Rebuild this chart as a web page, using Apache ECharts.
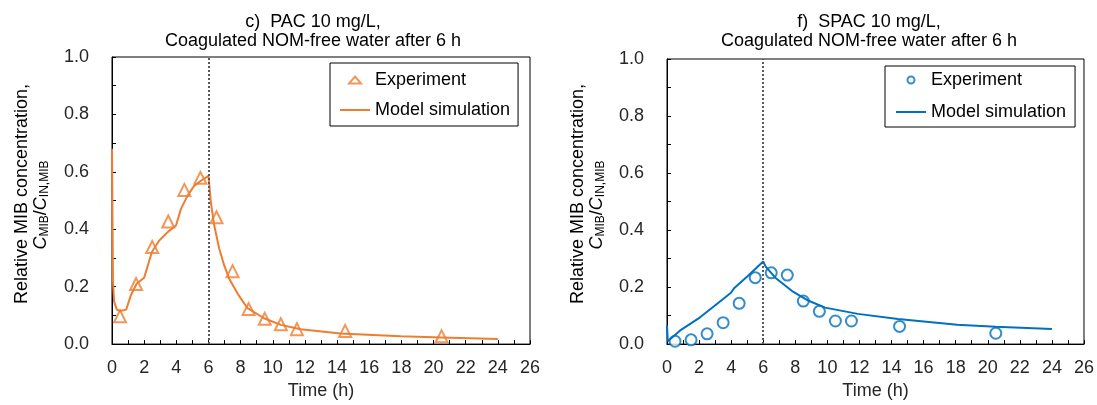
<!DOCTYPE html>
<html>
<head>
<meta charset="utf-8">
<script src="https://cdn.jsdelivr.net/npm/echarts@6/dist/echarts.min.js"></script>
<style>
  html, body { margin: 0; padding: 0; background: #fff; }
  #chart { width: 1097px; height: 405px; }
</style>
</head>
<body>
<div id="chart"></div>
<script>
// Sampling times (h) of the MIB measurements
const sampleTimes = [0.5, 1.5, 2.5, 3.5, 4.5, 5.5, 6.5, 7.5, 8.5, 9.5, 10.5, 11.5, 14.5, 20.5];

// Panel c) PAC 10 mg/L
const pacExperiment = [0.097, 0.209, 0.338, 0.427, 0.537, 0.579, 0.442, 0.254, 0.122, 0.088, 0.069, 0.052, 0.046, 0.027];
const pacModelTimes = [0, 0.06, 0.13, 0.3, 0.5, 0.88, 1.18, 1.53, 2.0, 2.48, 2.94, 3.46, 3.98, 4.29, 4.7, 5.11, 5.53, 6.0,
  6.15, 6.36, 6.67, 6.98, 7.29, 7.81, 8.43, 9.46, 10.5, 11.74, 14.2, 17.95, 20.5, 24];
const pacModel = [0.68, 0.218, 0.149, 0.12, 0.115, 0.12, 0.171, 0.21, 0.231, 0.321, 0.361, 0.39, 0.413, 0.471, 0.517, 0.551, 0.569, 0.586,
  0.494, 0.413, 0.332, 0.274, 0.228, 0.176, 0.125, 0.09, 0.067, 0.052, 0.037, 0.027, 0.023, 0.018];

// Panel f) SPAC 10 mg/L
const spacExperiment = [0.01, 0.015, 0.036, 0.075, 0.143, 0.233, 0.25, 0.242, 0.151, 0.115, 0.081, 0.081, 0.062, 0.038];
const spacModelTimes = [0, 0.05, 0.8, 2.04, 3.07, 3.99, 4.2, 5.02, 6.0, 6.15, 6.77, 7.8, 8.83, 9.86, 11.9, 14.4, 18.1, 20.5, 24];
const spacModel = [0.065, 0.01, 0.047, 0.093, 0.139, 0.18, 0.197, 0.238, 0.29, 0.272, 0.232, 0.186, 0.152, 0.128, 0.106, 0.088, 0.068, 0.061, 0.053];

// Axis settings
const xRange = [0, 26];
const yRange = [0, 1];
const coagulationTime = 6;

const titlesC = ['c)  PAC 10 mg/L,', 'Coagulated NOM-free water after 6 h'];
const titlesF = ['f)  SPAC 10 mg/L,', 'Coagulated NOM-free water after 6 h'];

const ORANGE = '#ED7D31';
const BLUE = '#0070C0';
const FONT = '"Liberation Sans", Arial, sans-serif';
const TXT = '#262626';
const FS = 18;

// Legend icon shapes (kept in proportion inside the legend item box)
const TRIANGLE_ICON = 'path://M6,0L12,7L0,7Z';
const CIRCLE_ICON = 'path://M10,5A5,5,0,1,1,0,5A5,5,0,1,1,10,5Z';
const LINE_ICON = 'path://M0,0L30,0L30,2L0,2Z';

const pairs = (xs, ys) => xs.map((x, i) => [x, ys[i]]);

function xAxis(gridIndex) {
  return {
    type: 'value', gridIndex, min: xRange[0], max: xRange[1], interval: 1,
    name: 'Time (h)', nameLocation: 'middle', nameGap: 36,
    nameTextStyle: { fontSize: FS, color: TXT, fontFamily: FONT },
    axisLine: { lineStyle: { color: '#000', width: 1 } },
    axisTick: { inside: true, length: 4, lineStyle: { color: '#000' } },
    axisLabel: {
      margin: 15, fontSize: FS, color: TXT, fontFamily: FONT,
      formatter: v => (Math.round(v) % 2 === 0 ? String(Math.round(v)) : '')
    },
    splitLine: { show: false }
  };
}

function yAxis(gridIndex) {
  return {
    type: 'value', gridIndex, min: yRange[0], max: yRange[1], interval: 0.1,
    axisLine: { show: true, lineStyle: { color: '#000', width: 1 } },
    axisTick: { show: true, inside: true, length: 4, lineStyle: { color: '#000' } },
    axisLabel: {
      margin: 23, fontSize: FS, color: TXT, fontFamily: FONT,
      formatter: v => (Math.round(v * 10) % 2 === 0 ? v.toFixed(1) : '')
    },
    splitLine: { show: false }
  };
}

function legend(prefix, markerIcon, left, top, iconSize, gap, padding) {
  return {
    orient: 'vertical', left, top,
    data: [
      { name: prefix + 'Experiment', icon: markerIcon },
      { name: prefix + 'Model simulation', icon: LINE_ICON }
    ],
    formatter: n => n.slice(prefix.length),
    itemWidth: 30, itemHeight: iconSize, itemGap: gap,
    symbolKeepAspect: true,
    padding,
    borderColor: '#000', borderWidth: 1, borderRadius: 0,
    backgroundColor: '#fff',
    selectedMode: false,
    textStyle: { fontSize: FS, color: '#000', fontFamily: FONT, lineHeight: 18 }
  };
}

function dividerLine() {
  return {
    silent: true, symbol: ['none', 'none'],
    label: { show: false },
    lineStyle: { color: '#595959', type: [2, 2], width: 2 },
    data: [{ xAxis: coagulationTime }]
  };
}

function titleTexts(lines, cx) {
  const ys = [21.7, 41];
  return lines.map((t, i) => ({
    type: 'text', x: cx, y: ys[i],
    style: { text: t, font: FS + 'px ' + FONT, fill: '#000', align: 'center', verticalAlign: 'middle' }
  }));
}

function yNameTexts(x1, x2) {
  return [
    {
      type: 'text', x: x1, y: 194, rotation: Math.PI / 2,
      style: { text: 'Relative MIB concentration,', font: FS + 'px ' + FONT, fill: '#000', align: 'center', verticalAlign: 'middle' }
    },
    {
      type: 'text', x: x2, y: 205, rotation: Math.PI / 2,
      style: {
        text: '{c|C}{s|MIB}{n|/}{c|C}{s|IN,MIB}',
        align: 'center', verticalAlign: 'middle',
        rich: {
          c: { fontSize: FS, fontStyle: 'italic', fontFamily: FONT, fill: '#000', lineHeight: 20, verticalAlign: 'middle' },
          n: { fontSize: FS, fontFamily: FONT, fill: '#000', lineHeight: 20, verticalAlign: 'middle' },
          s: { fontSize: 12, fontFamily: FONT, fill: '#000', lineHeight: 11, verticalAlign: 'bottom' }
        }
      }
    }
  ];
}

const option = {
  animation: false,
  backgroundColor: '#fff',
  grid: [
    { left: 112, top: 57, width: 418, height: 289.5, show: true, borderColor: '#000', borderWidth: 1, backgroundColor: 'transparent' },
    { left: 667, top: 59, width: 421, height: 288, show: true, borderColor: '#000', borderWidth: 1, backgroundColor: 'transparent' }
  ],
  xAxis: [xAxis(0), xAxis(1)],
  yAxis: [yAxis(0), yAxis(1)],
  legend: [
    legend('c-', TRIANGLE_ICON, 330, 63, 7, 12, [8, 8, 7, 10]),
    legend('f-', CIRCLE_ICON, 885, 66, 7, 14, [5, 9, 6, 11])
  ],
  graphic: [
    ...titleTexts(titlesC, 313),
    ...titleTexts(titlesF, 869),
    ...yNameTexts(22, 41),
    ...yNameTexts(578, 597)
  ],
  series: [
    {
      name: 'c-Model simulation', type: 'line', xAxisIndex: 0, yAxisIndex: 0,
      data: pairs(pacModelTimes, pacModel), symbol: 'none', smooth: false,
      lineStyle: { color: ORANGE, width: 2 }, itemStyle: { color: ORANGE },
      markLine: dividerLine()
    },
    {
      name: 'c-Experiment', type: 'scatter', xAxisIndex: 0, yAxisIndex: 0,
      data: pairs(sampleTimes, pacExperiment), symbol: 'triangle', symbolSize: 12, clip: false,
      itemStyle: { color: '#fff', borderColor: ORANGE, borderWidth: 2 }
    },
    {
      name: 'f-Model simulation', type: 'line', xAxisIndex: 1, yAxisIndex: 1,
      data: pairs(spacModelTimes, spacModel), symbol: 'none', smooth: false,
      lineStyle: { color: BLUE, width: 2 }, itemStyle: { color: BLUE },
      markLine: dividerLine()
    },
    {
      name: 'f-Experiment', type: 'scatter', xAxisIndex: 1, yAxisIndex: 1,
      data: pairs(sampleTimes, spacExperiment), symbol: 'circle', symbolSize: 11, clip: false,
      itemStyle: { color: '#fff', borderColor: BLUE, borderWidth: 2 }
    }
  ]
};

echarts.init(document.getElementById('chart'), null, { renderer: 'canvas' }).setOption(option);
</script>
</body>
</html>
